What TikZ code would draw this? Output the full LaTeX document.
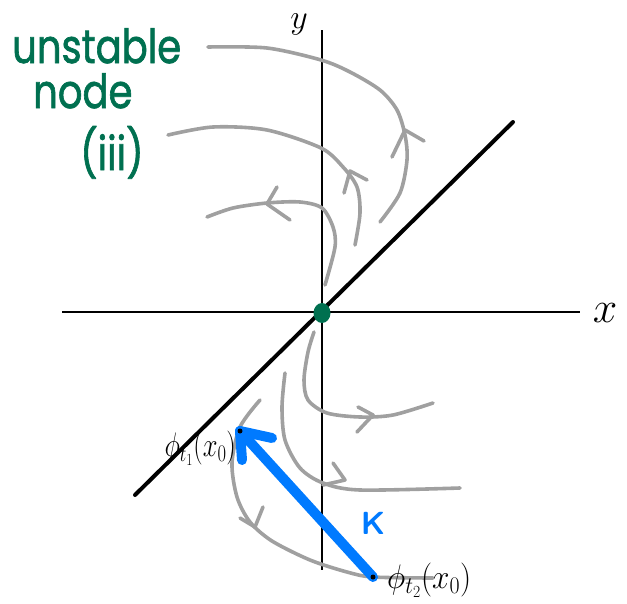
\RequirePackage{fix-cm}
\documentclass[tikz,border=0pt]{standalone}
\usepackage{fontspec}
\newfontfamily\hand[FakeBold=1.6]{Poppins}
\usetikzlibrary{shapes.geometric}
\definecolor{flowgrey}{RGB}{160,160,160}
\definecolor{nodegreen}{RGB}{0,112,80}
\definecolor{kblue}{RGB}{0,122,255}
\newcommand{\narrow}[1]{\scalebox{0.82}[1]{#1}}
\begin{document}
\begin{tikzpicture}[x=1pt,y=-1pt,
  flow/.style={draw=flowgrey,line width=3.6pt,line cap=round,line join=round},
  axis/.style={draw=black,line width=1.6pt},
  diag/.style={draw=black,line width=4pt,line cap=round},
  vec/.style={draw=kblue,line width=10pt,line cap=round,line join=round},
  pt/.style={circle,fill=black,inner sep=0pt,minimum size=5pt},
  greentext/.style={text=nodegreen,font=\hand\fontsize{47}{50}\selectfont,inner sep=0pt,anchor=base west},
  phitext/.style={font=\fontsize{34}{34}\selectfont,inner sep=0pt}]
\useasboundingbox (0,0) rectangle (627,603);
% axes
\coordinate (xl) at (62,312); \coordinate (xr) at (580,312);
\coordinate (yt) at (322,30); \coordinate (yb) at (322,570);
\draw[axis] (xl) -- (xr);
\draw[axis] (yt) -- (yb);
\node[font=\fontsize{44}{44}\selectfont,inner sep=0pt] (xlab) at (605,313) {$x$};
\node[font=\fontsize{34}{34}\selectfont,inner sep=0pt] (ylab) at (299,24) {$y$};
% diagonal
\coordinate (d1) at (135,495); \coordinate (d2) at (513,122);
\draw[diag] (d1) -- (d2);
% flow lines upper
\draw[flow] plot[smooth] coordinates {(208,47) (267,48) (321,60) (350,72) (380,90) (397,110) (405,135) (407,160) (400,193) (380,222)};
\draw[flow] (392,157) -- (405,130) -- (424,141);
\draw[flow] plot[smooth] coordinates {(168,135) (213,127) (267,130) (321,148) (343,167) (357,187) (360,213) (355,245)};
\draw[flow] (344,193) -- (350,171) -- (367,180);
\draw[flow] plot[smooth] coordinates {(207,217) (233,208) (267,203) (300,202) (322,208) (333,227) (335,247) (325,285)};
\draw[flow] (277,187) -- (267,204) -- (290,220);
% flow lines lower
\draw[flow] plot[smooth] coordinates {(314,332) (308,352) (304,380) (308,400) (327,413) (360,417) (393,415) (433,403)};
\draw[flow] (358,407) -- (373,415) -- (357,432);
\draw[flow] plot[smooth] coordinates {(285,373) (282,407) (285,440) (300,468) (323,483) (360,490) (460,488)};
\draw[flow] (333,463) -- (345,480) -- (323,485);
\draw[flow] plot[smooth] coordinates {(260,400) (240,427) (232,463) (237,497) (250,522) (272,541) (310,560) (347,572) (373,577) (433,578)};
\draw[flow] (240,518) -- (255,527) -- (263,507);
% node
\node[ellipse,fill=nodegreen,minimum width=17pt,minimum height=20pt,inner sep=0pt] (O) at (322,313) {};
% vector K
\coordinate (p2) at (373,577); \coordinate (p1) at (240,431);
\draw[vec] (p2) -- (p1);
\draw[vec] (242,460) -- (p1) -- (272,438);
\node[pt] (dot1) at (p1) {};
\node[pt] (dot2) at (p2) {};
\node[text=kblue,font=\sffamily\bfseries\fontsize{32}{32}\selectfont,inner sep=0pt] (K) at (373,523) {K};
% labels
\node[phitext,anchor=east] (phi1) at (236,448) {\scalebox{0.78}[1]{$\phi_{t_1}(x_0)$}};
\node[phitext,anchor=west] (phi2) at (387,580) {\scalebox{0.92}[1]{$\phi_{t_2}(x_0)$}};
% title
\node[greentext] (t1) at (12,63) {\narrow{unstable}};
\node[greentext] (t2) at (33,108) {\narrow{node}};
\node[greentext] (t3) at (80,170) {\narrow{(iii)}};
\end{tikzpicture}
\end{document}
